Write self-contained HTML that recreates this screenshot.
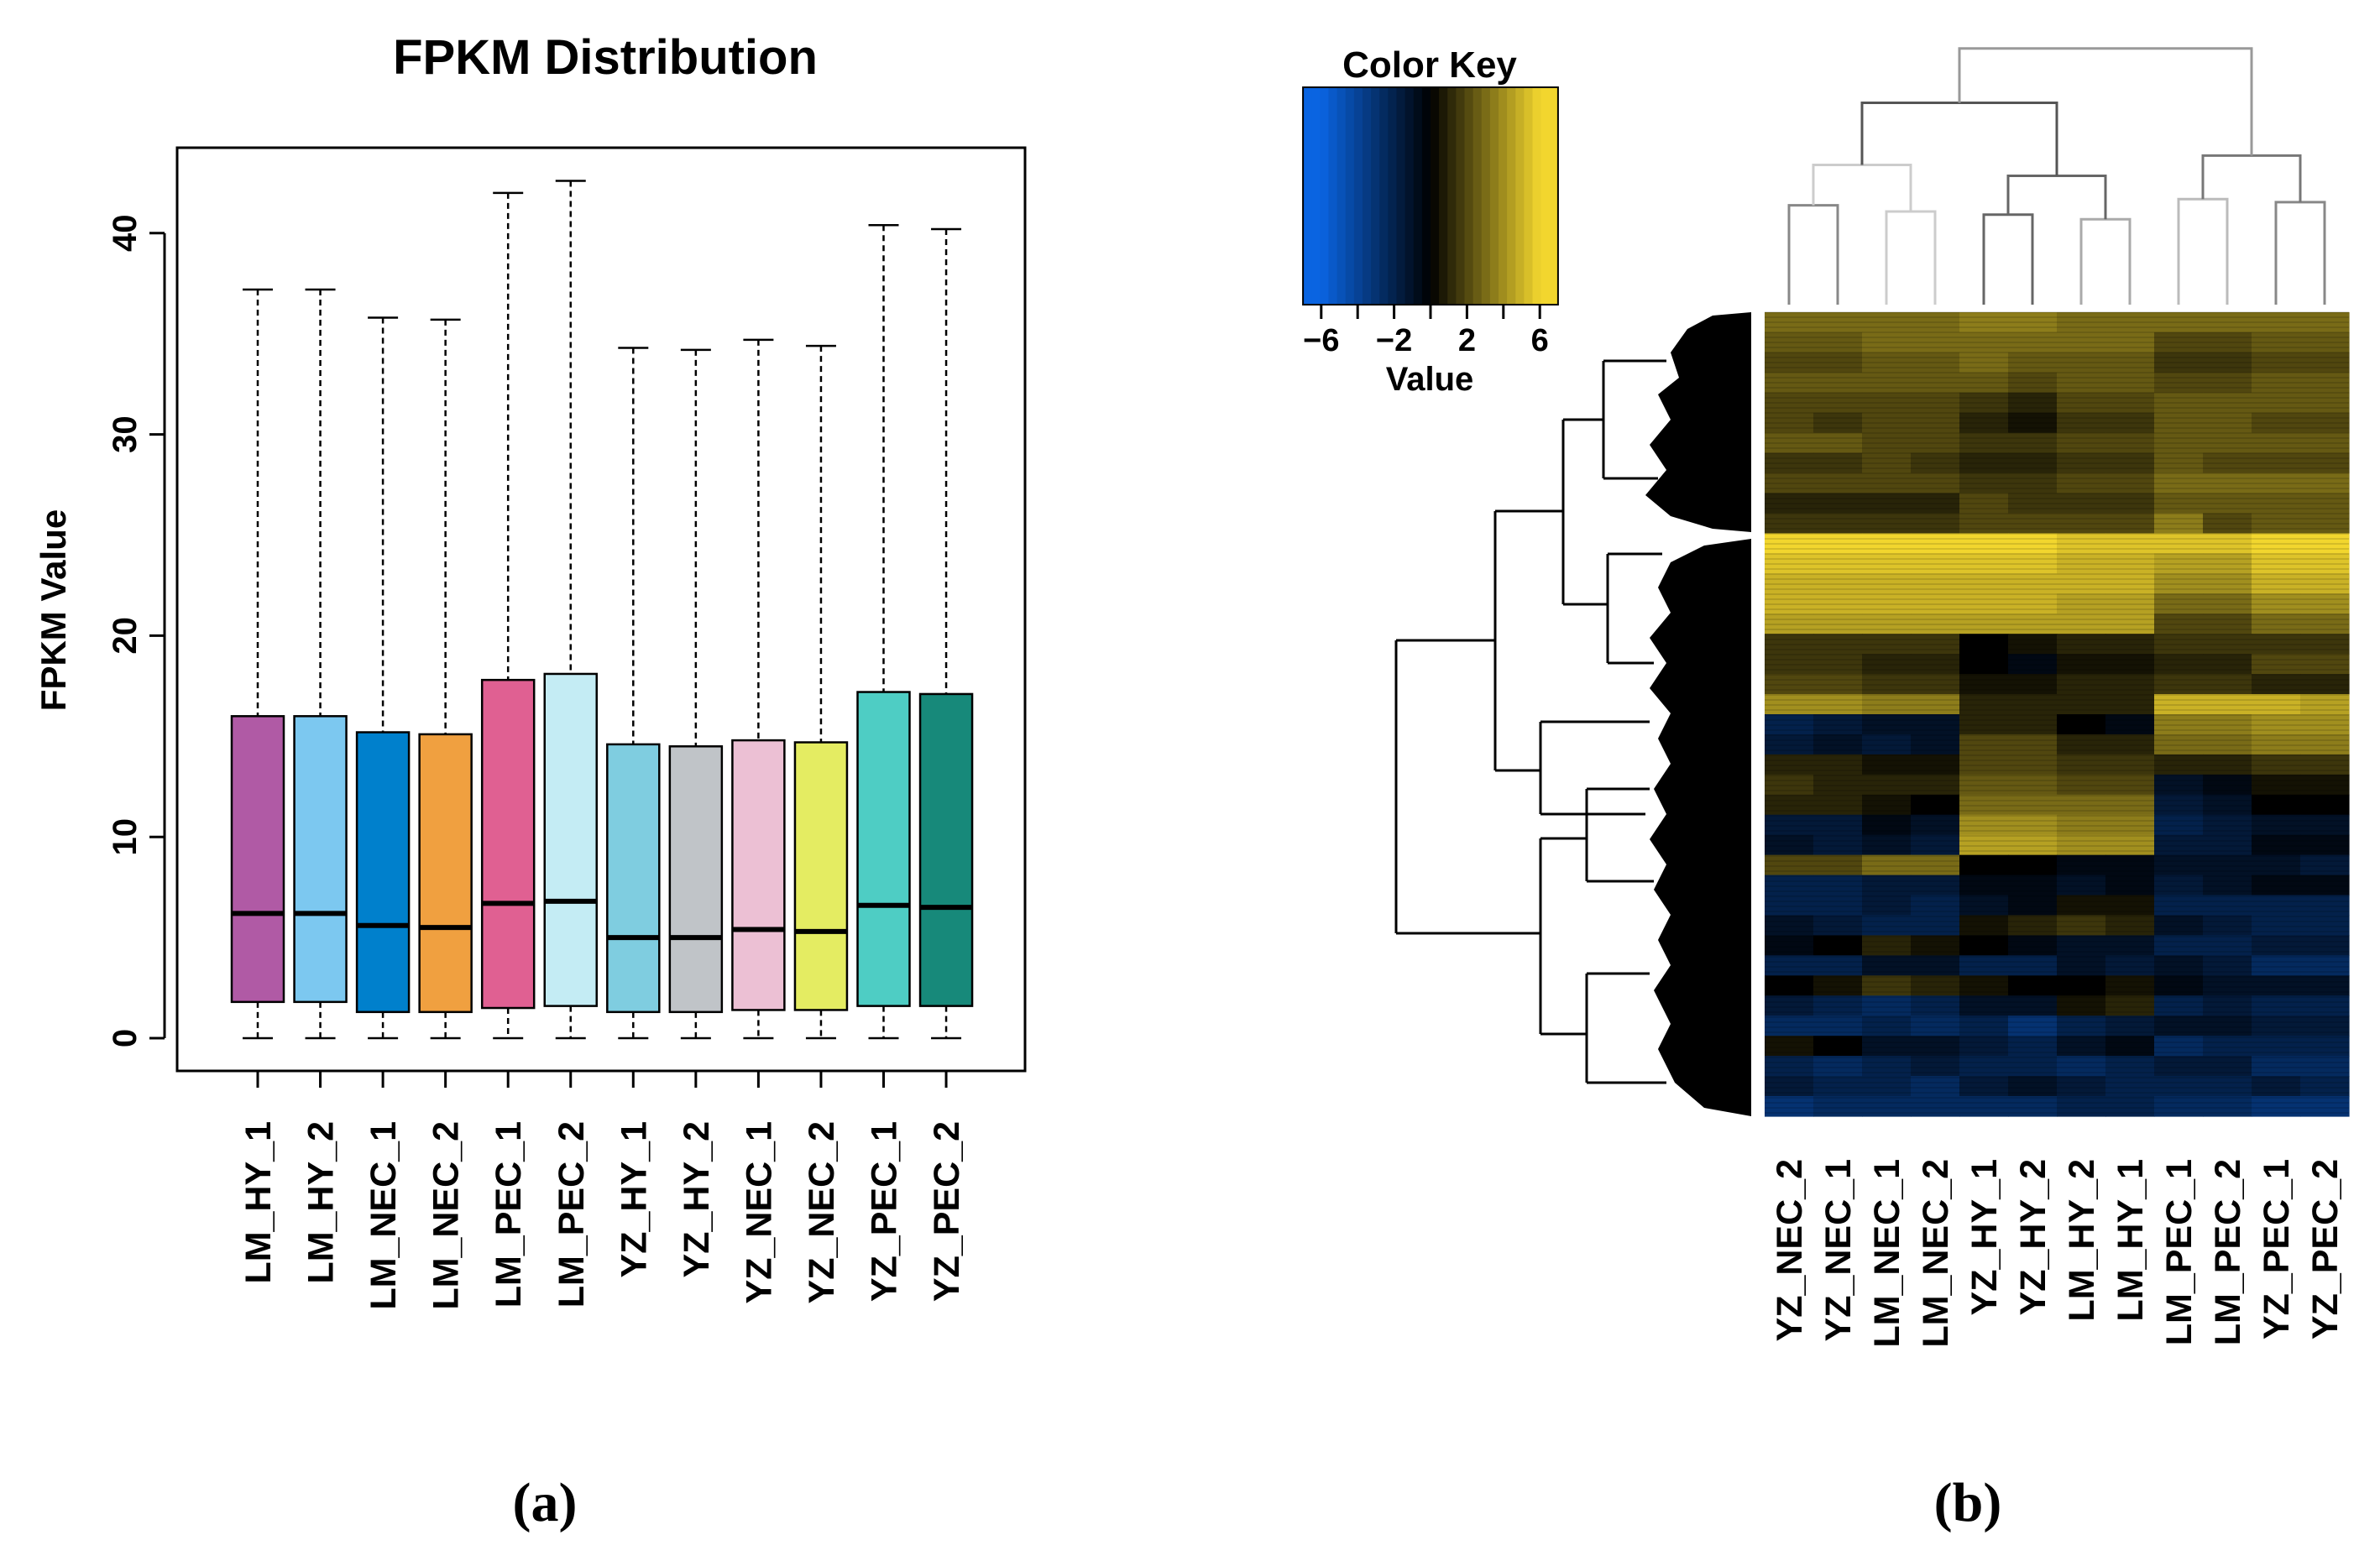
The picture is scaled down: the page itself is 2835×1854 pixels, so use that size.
<!DOCTYPE html>
<html><head><meta charset="utf-8">
<style>
html,body{margin:0;padding:0;background:#fff;}
svg{display:block;font-family:"Liberation Sans",Arial,sans-serif;}
</style></head>
<body>
<svg id="fig" width="2835" height="1854" viewBox="0 0 2835 1854" xmlns="http://www.w3.org/2000/svg">
  <rect x="0" y="0" width="2835" height="1854" fill="#fff"/>
  <g id="panelA">
    <text x="721" y="88" font-size="58" font-weight="bold" text-anchor="middle">FPKM Distribution</text>
    <rect x="211" y="176" width="1010" height="1100" fill="none" stroke="#000" stroke-width="3"/>
    <text transform="translate(78,727) rotate(-90)" font-size="42" font-weight="bold" text-anchor="middle">FPKM Value</text>
    <g id="yaxis"></g>
    <g id="boxes"></g>
    <g id="xlabels"></g>
    <text x="649" y="1812" font-family="'Liberation Serif',serif" font-size="66" font-weight="bold" text-anchor="middle">(a)</text>
  </g>
  <g id="panelB">
    <text x="1703" y="92" font-size="44" font-weight="bold" text-anchor="middle">Color Key</text>
    <g id="key"></g>
    <text x="1703" y="465" font-size="40" font-weight="bold" text-anchor="middle">Value</text>
    <g id="coldend"></g>
    <g id="rowdend"></g>
    <g id="heat"></g>
    <g id="hlabels"></g>
    <text x="2344" y="1812" font-family="'Liberation Serif',serif" font-size="66" font-weight="bold" text-anchor="middle">(b)</text>
  </g>
</svg>
<script>
const samples = ["LM_HY_1","LM_HY_2","LM_NEC_1","LM_NEC_2","LM_PEC_1","LM_PEC_2","YZ_HY_1","YZ_HY_2","YZ_NEC_1","YZ_NEC_2","YZ_PEC_1","YZ_PEC_2"];
const whiskerMax = [37.2,37.2,35.8,35.7,42.0,42.6,34.3,34.2,34.7,34.4,40.4,40.2];
const q3 = [16.0,16.0,15.2,15.1,17.8,18.1,14.6,14.5,14.8,14.7,17.2,17.1];
const median = [6.2,6.2,5.6,5.5,6.7,6.8,5.0,5.0,5.4,5.3,6.6,6.5];
const q1 = [1.8,1.8,1.3,1.3,1.5,1.6,1.3,1.3,1.4,1.4,1.6,1.6];
const whiskerMin = [0,0,0,0,0,0,0,0,0,0,0,0];
const boxColors = ["#b05aa5","#7cc8f0","#0080cc","#f0a040","#e06092","#c4ecf4","#7fcde0","#c0c4c8","#ecc0d4","#e4ec62","#4ecdc4","#17897a"];
const yTicks = [0,10,20,30,40];

const heatCols = ["YZ_NEC_2","YZ_NEC_1","LM_NEC_1","LM_NEC_2","YZ_HY_1","YZ_HY_2","LM_HY_2","LM_HY_1","LM_PEC_1","LM_PEC_2","YZ_PEC_1","YZ_PEC_2"];
const heatRows = [
[3,3,3,3,3.5,3.5,3,3,3,3,3,3],
[2.5,2.5,3,3,3,3,3,3,2,2,2.5,2.5],
[2,2,2.5,2.5,3,2.5,2.5,2.5,1.5,1.5,2,2],
[2.5,2.5,2.5,2.5,2.5,2,2.5,2.5,2,2,2.5,2.5],
[2,2,2,2,1.5,1,2,2,2.5,2.5,2.5,2.5],
[2,1.5,2,2,1,0.5,1.5,1.5,2.5,2.5,2,2],
[2.5,2.5,2,2,1.5,1.5,2,2,2.5,2.5,2.5,2.5],
[1.5,1.5,2,1.5,1,1,1.5,1.5,2.5,2,2,2],
[2,2,2,2,1.5,1.5,2,2,3,3,3,3],
[1,1,1,1,2,1.5,1.5,1.5,2.5,2.5,2.5,2.5],
[1.5,1.5,1.5,1.5,2,2,2,2,3.5,2,2.5,2.5],
[6,6,6,6,6,6,5.5,5.5,5.5,5.5,6,6],
[5.5,5.5,5.5,5.5,5.5,5.5,5,5,4.5,4.5,5.5,5.5],
[5,5,5,5,5,5,5,5,4,4,5,5],
[5,5,5,5,5,5,4.5,4.5,3,3,4,4],
[4.5,4.5,4.5,4.5,4.5,4.5,4.5,4.5,2,2,3,3],
[1.5,1.5,1.5,1.5,0,0.5,1,1,1.5,1.5,1.5,1.5],
[1.5,1.5,1,1,0,-0.5,0.5,0.5,1,1,2,2],
[2,2,1.5,1.5,0.5,0.5,1,1,1.5,1.5,1,1],
[4,4,3.5,3.5,1,1,1,1,5,5,5,4.5],
[-2,-1.5,-1,-1,1,1,0,-0.5,3.5,3.5,4,4],
[-1.5,-1,-1.5,-1,2,2,1,1,3,3,3.5,3.5],
[1,1,0.5,0.5,2,2,1.5,1.5,1,1,1.5,1.5],
[1.5,1,1,1,2.5,2.5,2,2,-1,-0.5,0.5,0.5],
[1,1,0.5,0,3,3,3,3,-1.5,-1,0,0],
[-1.5,-1.5,-0.5,-1,4,4,3.5,3.5,-2,-1.5,-1,-1],
[-1,-1.5,-1,-1.5,4.5,4.5,4,4,-1.5,-1.5,-0.5,-0.5],
[2,2,3,3,0,0,-0.5,-0.5,-1,-1,-1,-1.5],
[-2,-2,-1.5,-1.5,-0.5,-0.5,-1,-0.5,-1.5,-1,-0.5,-0.5],
[-2,-2,-1.5,-2,-1,-0.5,0.5,0.5,-2,-2,-2,-2],
[-1,-1.5,-2,-2,0.5,1,1.5,1,-1,-1.5,-2,-2],
[-0.5,0,1,0.5,0,-0.5,-1,-1,-2,-2,-1.5,-1.5],
[-2,-2,-1,-1,-2,-2,-1,-1.5,-1,-1.5,-2.5,-2.5],
[0,0.5,1.5,1,0.5,0,0,0.5,-0.5,-1,-1,-1],
[-1.5,-2,-2.5,-2,-1,-1,0.5,1,-2,-1.5,-2,-2],
[-2.5,-2.5,-2,-2.5,-2,-3,-2,-1.5,-1,-1,-1.5,-1.5],
[0.5,0,-1,-1,-1.5,-2,-1,-0.5,-2.5,-2,-2,-2],
[-2,-2.5,-2,-1.5,-2,-2,-2.5,-2,-1.5,-1.5,-2.5,-2.5],
[-1.5,-2,-2,-2.5,-1.5,-1,-1.5,-2,-2,-2,-1.5,-2],
[-3,-2.5,-2.5,-2.5,-2.5,-2.5,-2,-2,-2.5,-2.5,-3,-3]
];
const keyTicks = [-6,-4,-2,0,2,4,6];
const keyTickLabels = ["\u22126","","\u22122","","2","","6"];
// column dendrogram merges: [leftNode,rightNode,height]; leaves 0..11, internal nodes 12+
const colMerges = [[0,1,0.64],[2,3,0.60],[12,13,0.90],[4,5,0.58],[6,7,0.55],[15,16,0.83],[14,17,1.30],[8,9,0.68],[10,11,0.66],[19,20,0.96],[18,21,1.65]];
const colMergeShade = ["#888","#ccc","#ccc","#666","#aaa","#666","#555","#bbb","#888","#777","#999"];

const NS = "http://www.w3.org/2000/svg";
function mk(tag, attrs, parent){ const e=document.createElementNS(NS,tag); for(const k in attrs) e.setAttribute(k,attrs[k]); parent.appendChild(e); return e; }

// ---- boxplot ----
const yScale = v => 1237 - v*23.98;
const xCenter = i => 307 + i*74.55;
const BW = 62;
const yaxis = document.getElementById('yaxis');
mk('line',{x1:196,x2:196,y1:yScale(0),y2:yScale(40),stroke:'#000','stroke-width':3},yaxis);
yTicks.forEach(t=>{
  const tk = mk('line',{x1:178,x2:196,y1:yScale(t),y2:yScale(t),stroke:'#000','stroke-width':3},yaxis);
  
  
  const lb = mk('text',{transform:`translate(162,${yScale(t)}) rotate(-90)`,'font-size':40,'font-weight':'bold','text-anchor':'middle'},yaxis);
  lb.textContent = t;
  
  
});
const boxes = document.getElementById('boxes');
const xl = document.getElementById('xlabels');
samples.forEach((s,i)=>{
  const cx = xCenter(i);
  const g = mk('g',{},boxes);
  
  
  mk('line',{x1:cx,x2:cx,y1:yScale(whiskerMax[i]),y2:yScale(q3[i]),stroke:'#000','stroke-width':2.5,'stroke-dasharray':'7,5'},g);
  mk('line',{x1:cx,x2:cx,y1:yScale(q1[i]),y2:yScale(whiskerMin[i]),stroke:'#000','stroke-width':2.5,'stroke-dasharray':'7,5'},g);
  mk('line',{x1:cx-18,x2:cx+18,y1:yScale(whiskerMax[i]),y2:yScale(whiskerMax[i]),stroke:'#000','stroke-width':2.5},g);
  mk('line',{x1:cx-18,x2:cx+18,y1:yScale(whiskerMin[i]),y2:yScale(whiskerMin[i]),stroke:'#000','stroke-width':2.5},g);
  mk('rect',{x:cx-BW/2,y:yScale(q3[i]),width:BW,height:yScale(q1[i])-yScale(q3[i]),fill:boxColors[i],stroke:'#000','stroke-width':2.5},g);
  mk('line',{x1:cx-BW/2,x2:cx+BW/2,y1:yScale(median[i]),y2:yScale(median[i]),stroke:'#000','stroke-width':6},g);
  const tk = mk('line',{x1:cx,x2:cx,y1:1276,y2:1296,stroke:'#000','stroke-width':3},xl);
  
  
  const lb = mk('text',{transform:`translate(${cx+15},1336) rotate(-90)`,'font-size':43,'font-weight':'bold','text-anchor':'end'},xl);
  lb.textContent = s;
  
  
});
mk('line',{x1:xCenter(0),x2:xCenter(11),y1:1296,y2:1296,stroke:'#fff','stroke-width':0},xl);

// ---- color mapping ----
function colorOf(v){
  const t = Math.max(-1,Math.min(1,v/6));
  let r,g,b;
  if(t>=0){ r=242*t; g=214*t; b=46*t; } else { const u=-t; r=10*u; g=100*u; b=225*u; }
  return `rgb(${Math.round(r)},${Math.round(g)},${Math.round(b)})`;
}

// ---- color key ----
const key = document.getElementById('key');
const kx = v => 1704 + v*21.7;
for(let s=0;s<30;s++){
  const v0 = -7 + s*14/30, v1 = v0 + 14/30;
  const c = mk('rect',{x:kx(v0),y:104,width:kx(v1)-kx(v0)+0.6,height:259,fill:colorOf((v0+v1)/2)},key);
  
  
}
mk('rect',{x:kx(-7),y:104,width:kx(7)-kx(-7),height:259,fill:'none',stroke:'#000','stroke-width':2},key);
keyTicks.forEach((t,i)=>{
  mk('line',{x1:kx(t),x2:kx(t),y1:363,y2:380,stroke:'#000','stroke-width':3},key);
  if(keyTickLabels[i]){
    const lb = mk('text',{x:kx(t),y:418,'font-size':38,'font-weight':'bold','text-anchor':'middle'},key);
    lb.textContent = keyTickLabels[i];
    
    
  }
});

// ---- heatmap ----
const HX0=2102, HY0=372, HW=696, HH=958;
const cw = HW/heatCols.length, rh = HH/heatRows.length;
const heat = document.getElementById('heat');
heatRows.forEach((row,r)=>{
  row.forEach((v,c)=>{
    const cell = mk('rect',{x:HX0+c*cw,y:HY0+r*rh,width:cw+0.6,height:rh+0.6,fill:colorOf(v)},heat);
    
    
  });
});
// fine stripes texture
for(let y=HY0;y<HY0+HH;y+=6){
  mk('line',{x1:HX0,x2:HX0+HW,y1:y,y2:y,stroke:'#000','stroke-opacity':0.12,'stroke-width':2},heat);
}
const hl = document.getElementById('hlabels');
heatCols.forEach((s,c)=>{
  const cx = HX0+(c+0.5)*cw;
  const lb = mk('text',{transform:`translate(${cx+15},1381) rotate(-90)`,'font-size':43,'font-weight':'bold','text-anchor':'end'},hl);
  lb.textContent = s;
  
  
});

// ---- column dendrogram ----
const cd = document.getElementById('coldend');
const hScale = h => 363 - h*185;
const nodeX = [], nodeH = [];
for(let i=0;i<12;i++){ nodeX.push(HX0+(i+0.5)*cw); nodeH.push(0); }
colMerges.forEach((m,k)=>{
  const [a,b,h] = m;
  const y = hScale(h);
  const p = mk('path',{d:`M${nodeX[a]},${hScale(nodeH[a])} V${y} H${nodeX[b]} V${hScale(nodeH[b])}`,fill:'none',stroke:colMergeShade[k],'stroke-width':3},cd);
  
  
  nodeX.push((nodeX[a]+nodeX[b])/2); nodeH.push(h);
});

// ---- row dendrogram (schematic) ----
const rd = document.getElementById('rowdend');
const fan1 = "M2086,372 L2040,376 L2010,392 L1990,420 L2000,450 L1975,470 L1990,500 L1965,530 L1985,560 L1960,590 L1990,615 L2040,630 L2086,634 Z";
const fan2 = "M2086,642 L2030,650 L1990,670 L1975,700 L1990,730 L1965,760 L1985,790 L1965,820 L1990,850 L1975,880 L1990,910 L1970,940 L1985,970 L1965,1000 L1985,1030 L1970,1060 L1990,1090 L1975,1120 L1990,1150 L1970,1180 L1990,1220 L1975,1250 L1995,1290 L2030,1320 L2086,1330 Z";
[fan1,fan2].forEach(d=>{
  const f = mk('path',{d:d,fill:'#000'},rd);
  
  
});
const br = [
 "M1663,763 V1112",
 "M1663,763 H1781", "M1781,609 V918",
 "M1781,609 H1862", "M1862,500 V720",
 "M1862,500 H1910", "M1910,430 V570", "M1910,430 H1985", "M1910,570 H1975",
 "M1862,720 H1915", "M1915,660 V790", "M1915,660 H1980", "M1915,790 H1970",
 "M1781,918 H1835", "M1835,860 V970", "M1835,860 H1965", "M1835,970 H1960",
 "M1663,1112 H1835", "M1835,999 V1232",
 "M1835,999 H1890", "M1890,940 V1050", "M1890,940 H1965", "M1890,1050 H1970",
 "M1835,1232 H1890", "M1890,1160 V1290", "M1890,1160 H1965", "M1890,1290 H1985"
];
br.forEach(d=>{
  const p = mk('path',{d:d,fill:'none',stroke:'#000','stroke-width':3},rd);
  
  
});
</script>
</body></html>
